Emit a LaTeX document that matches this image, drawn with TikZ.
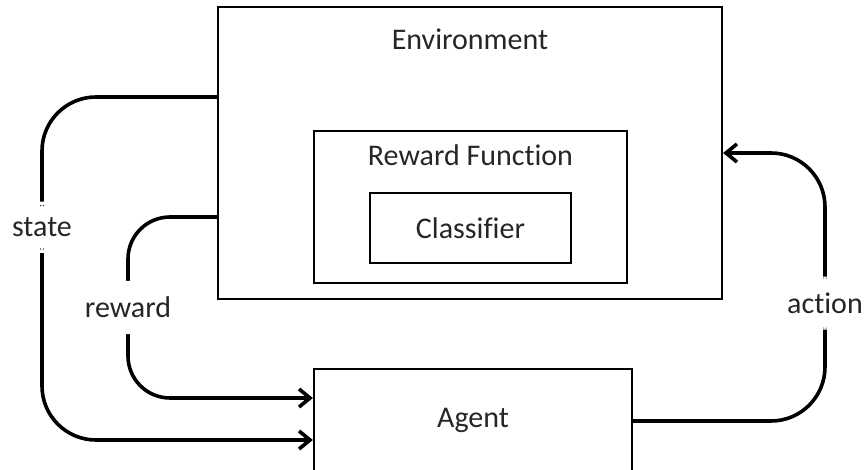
\documentclass[tikz,border=0pt]{standalone}
\usepackage{fontspec}
\setmainfont{Carlito}[Ligatures=NoCommon]
\usetikzlibrary{arrows.meta, positioning}

\begin{document}
\begin{tikzpicture}[x=0.5pt, y=-0.5pt, >={Straight Barb[length=5.5pt, width=9pt]}, font=\fontsize{15}{18}\selectfont]
        % Estilos para bloques, conectores y etiquetas
        \tikzstyle{block} = [draw, rectangle, line width=1.1pt, inner sep=0pt, text=black!85]
        \tikzstyle{heading} = [text=black!85]
        \tikzstyle{link} = [line width=1.8pt, rounded corners=27pt]
        \tikzstyle{tag} = [fill=white, text=black!85, inner xsep=2pt, inner ysep=8pt]
        \useasboundingbox (0,0) rectangle (864,470);
        % Nodes
        \node [block, minimum width=252pt, minimum height=146pt] (environment) at (470,153) {}; % Environment box
        \node [block, minimum width=156.5pt, minimum height=76pt] (rewardFunction) at (470.5,207) {}; % Reward function box
        \node [block, minimum width=100.5pt, minimum height=35pt] (classifier) at (470.5,228) {Classifier}; % Classifier box
        \node [block, minimum width=159pt, minimum height=51.5pt] (agent) at (473,420.5) {Agent}; % Agent box
        \node [heading] (environmentTitle) at (470,39) {Environment};
        \node [heading] (rewardTitle) at (470.5,155) {Reward Function};
        \coordinate (elbowState1) at (42,97); % Elbow for state
        \coordinate (elbowState2) at (42,440);
        \coordinate (elbowReward1) at (128,217); % Elbow for reward
        \coordinate (elbowReward2) at (128,398);
        \coordinate (elbowAction1) at (825,421); % Elbow for action
        \coordinate (elbowAction2) at (825,153);
        % Connections
        \draw [link, ->] (environment.west |- elbowState1) -- (elbowState1) -- node[tag, pos=0.38] (stateLabel) {state} (elbowState2) -- (agent.west |- elbowState2); % Environment to agent
        \draw [link, rounded corners=21pt, ->] (environment.west |- elbowReward1) -- (elbowReward1) -- node[tag] (rewardLabel) {reward} (elbowReward2) -- (agent.west |- elbowReward2); % Reward to agent
        \draw [link, ->] (agent.east |- elbowAction1) -- (elbowAction1) -- node[tag, pos=0.44] (actionLabel) {action} (elbowAction2) -- (environment.east |- elbowAction2); % Agent to environment
      \end{tikzpicture}
\end{document}
